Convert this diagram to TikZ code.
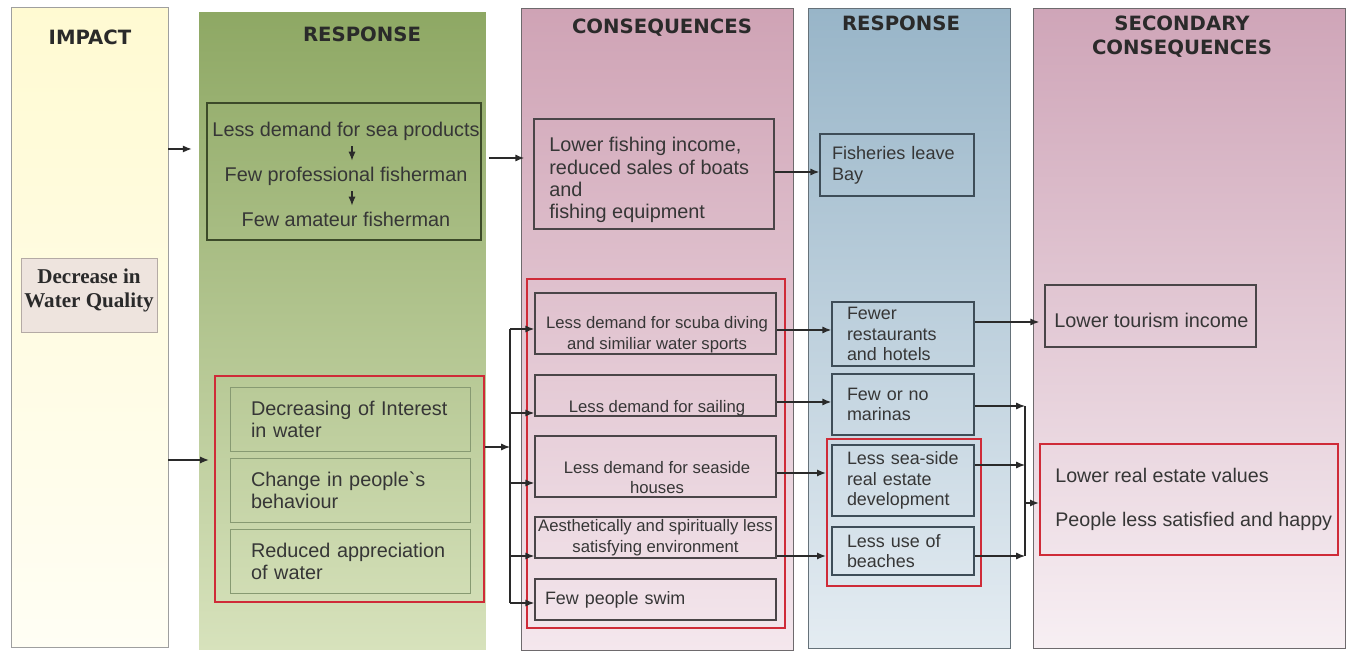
\documentclass[tikz,border=0pt]{standalone}
\usepackage{fontspec}
\setmainfont{Liberation Sans}
\newfontfamily\headfont{DejaVu Sans}
\newfontfamily\qualityfont{Liberation Serif}
\usetikzlibrary{arrows.meta, positioning}

\definecolor{txtgray}{HTML}{363636}
\definecolor{headgray}{HTML}{2A2A2A}
\definecolor{boxgray}{HTML}{4A4548}
\definecolor{boxblue}{HTML}{3E4D58}
\definecolor{boxolive}{HTML}{3C4A29}
\definecolor{boxsage}{HTML}{879A72}
\definecolor{markred}{HTML}{CF2B38}

\begin{document}
\begin{tikzpicture}[x=0.02cm, y=-0.02cm,
    head/.style={font=\headfont\bfseries\fontsize{11.2}{13.7}\selectfont, text=headgray, align=center, inner sep=0pt},
    panel/.style={rectangle, inner sep=0pt},
    txt/.style={font=\fontsize{11.3}{12.6}\selectfont, text=txtgray},
    small/.style={font=\fontsize{9.5}{11.7}\selectfont, text=txtgray, align=center},
    blue/.style={font=\fontsize{10.2}{11.7}\selectfont, text=txtgray, draw=boxblue, line width=0.9pt, inner sep=0pt, align=left, text width=2.24cm, minimum width=2.84cm},
    cbox/.style={draw=boxgray, line width=0.9pt, minimum width=4.82cm, inner sep=0pt},
    gbox/.style={txt, draw=boxsage, thin, minimum width=4.8cm, minimum height=1.28cm, inner sep=0pt, align=left, text width=3.96cm},
    redmark/.style={draw=markred, line width=1.3pt, inner sep=0pt},
    arr/.style={-{Latex[length=5pt, width=4pt]}, line width=0.7pt, draw=headgray},
    bus/.style={line width=0.7pt, draw=headgray}]

\useasboundingbox (0,0) rectangle (1346,661);
\fill[white] (0,0) rectangle (1346,661);

\node[panel, draw=gray!75, top color={rgb,255:red,255;green,250;blue,210}, bottom color={rgb,255:red,255;green,254;blue,244}, minimum width=3.14cm, minimum height=12.8cm] (impact) at (89.5,327) {};
\node[panel, top color={rgb,255:red,142;green,168;blue,100}, bottom color={rgb,255:red,215;green,226;blue,188}, minimum width=5.74cm, minimum height=12.76cm] (respA) at (342.5,331) {};
\node[panel, draw=boxgray!80, top color={rgb,255:red,207;green,163;blue,181}, bottom color={rgb,255:red,244;green,231;blue,237}, minimum width=5.44cm, minimum height=12.84cm] (consA) at (657,329) {};
\node[panel, draw=boxblue!80, top color={rgb,255:red,152;green,181;blue,200}, bottom color={rgb,255:red,228;green,236;blue,242}, minimum width=4.04cm, minimum height=12.8cm] (respB) at (909,328) {};
\node[panel, draw=boxgray!80, top color={rgb,255:red,207;green,165;blue,184}, bottom color={rgb,255:red,247;green,239;blue,243}, minimum width=6.24cm, minimum height=12.8cm] (consB) at (1189,328) {};

\node[head] (impactHead) at (90,37) {IMPACT};
\node[head] (respAHead) at (362,34.5) {RESPONSE};
\node[head] (consAHead) at (662,27.5) {CONSEQUENCES};
\node[head] (respBHead) at (901,23.5) {RESPONSE};
\node[head] (consBHead) at (1182,36.5) {SECONDARY\\CONSEQUENCES};

\node[draw={rgb,255:red,180;green,170;blue,165}, fill={rgb,255:red,238;green,228;blue,222}, minimum width=2.72cm, minimum height=1.48cm, inner sep=0pt] (quality) at (89,295) {};
\node[inner sep=0pt, align=center, text=headgray, font=\qualityfont\bfseries\fontsize{12}{13.7}\selectfont] (qualityText) at (89,290.5) {Decrease in\\Water Quality};

\node[draw=boxolive, line width=0.9pt, minimum width=5.48cm, minimum height=2.74cm] (fishbox) at (344,171.5) {};
\node[txt] (fish1) at (346,131) {Less demand for sea products};
\node[txt] (fish2) at (346,176) {Few professional fisherman};
\node[txt] (fish3) at (346,219) {Few amateur fisherman};
\draw[arr, line width=0.6pt] ([xshift=0.12cm]fish1.south) -- ([xshift=0.12cm]fish2.north);
\draw[arr, line width=0.6pt] ([xshift=0.12cm]fish2.south) -- ([xshift=0.12cm]fish3.north);

\node[redmark, minimum width=5.38cm, minimum height=4.52cm] (redgreen) at (349.5,489) {};
\node[gbox] (interest) at (350,419) {Decreasing of Interest\\in water};
\node[gbox] (behaviour) at (350,490) {Change in people\textasciigrave s\\behaviour};
\node[gbox] (appreciation) at (350,561) {Reduced appreciation\\of water};

\node[draw=boxgray, line width=0.9pt, minimum width=4.8cm, minimum height=2.2cm] (income) at (654,174) {};
\node[txt, inner sep=0pt, align=left, anchor=west] (incomeText) at (549,180) {Lower fishing income,\\reduced sales of boats\\and\\fishing equipment};
\node[blue, font=\fontsize{10.3}{12}\selectfont, minimum width=3.08cm, minimum height=1.24cm, text width=2.6cm] (leave) at (897,165) {Fisheries leave\\Bay};

\node[redmark, minimum width=5.16cm, minimum height=6.98cm] (redcons) at (656,453.5) {};
\node[cbox, minimum height=1.22cm] (scuba) at (655.5,323.5) {};
\node[small] (scubaText) at (657,334.5) {Less demand for scuba diving\\and similiar water sports};
\node[cbox, minimum height=0.82cm] (sailing) at (655.5,395.5) {};
\node[small] (sailingText) at (657,408) {Less demand for sailing};
\node[cbox, minimum height=1.22cm] (seaside) at (655.5,466.5) {};
\node[small] (seasideText) at (657,477.5) {Less demand for seaside\\houses};
\node[cbox, small, minimum height=0.82cm] (aesthetic) at (655.5,537.5) {Aesthetically and spiritually less\\satisfying environment};
\node[cbox, font=\fontsize{10.2}{12}\selectfont, text=txtgray, minimum height=0.82cm, align=left, text width=4.42cm] (swim) at (655.5,599.5) {Few people swim};

\node[blue, minimum height=1.28cm] (hotels) at (903,334) {Fewer\\restaurants\\and hotels};
\node[blue, minimum height=1.22cm] (marinas) at (903,404.5) {Few or no\\marinas};
\node[redmark, minimum width=3.08cm, minimum height=2.94cm] (redblue) at (904,512.5) {};
\node[blue, minimum height=1.42cm] (realestate) at (903,480.5) {Less sea-side\\real estate\\development};
\node[blue, minimum height=0.96cm] (beaches) at (903,551) {Less use of\\beaches};

\node[draw=boxgray, line width=0.9pt, minimum width=4.22cm, minimum height=1.24cm] (tourism) at (1150.5,316) {};
\node[txt, inner sep=0pt, anchor=west] (tourismText) at (1054,320) {Lower tourism income};
\node[redmark, minimum width=5.96cm, minimum height=2.22cm] (redsec) at (1189,499.5) {};
\node[txt, font=\fontsize{11.2}{12.6}\selectfont, inner sep=0pt, align=left, anchor=west] (redsecText) at (1055,499.5) {Lower real estate values\\[12pt]People less satisfied and happy};

\coordinate (lvA) at (0,149);
\coordinate (lvB) at (0,460);
\coordinate (lvC) at (0,158);
\coordinate (lvD) at (0,172);
\coordinate (lvE) at (0,447);
\coordinate (lvF) at (0,330);
\coordinate (lvG) at (0,402);
\coordinate (lvH) at (0,473);
\coordinate (lvI) at (0,556);
\coordinate (lvJ) at (0,322);

\coordinate (busA1) at (510,329);
\coordinate (busA2) at (510,413);
\coordinate (busA3) at (510,483);
\coordinate (busA4) at (510,556);
\coordinate (busA5) at (510,603);

\coordinate (busB1) at (1025,406);
\coordinate (busB2) at (1025,465);
\coordinate (busB3) at (1025,556);
\coordinate (busBo) at (1025,503);

\draw[arr, shorten >=0.14cm] (impact.east |- lvA) -- (respA.west |- lvA);
\draw[arr, shorten >=0.1cm] (impact.east |- lvB) -- (redgreen.west |- lvB);
\draw[arr, shorten <=0.14cm, shorten >=0.18cm] (fishbox.east |- lvC) -- (income.west |- lvC);
\draw[arr] (income.east |- lvD) -- (leave.west |- lvD);

\draw[arr] (redgreen.east |- lvE) -- (busA1 |- lvE);
\draw[bus] (busA1) -- (busA5);
\draw[arr] (busA1) -- (scuba.west |- busA1);
\draw[arr] (busA2) -- (sailing.west |- busA2);
\draw[arr] (busA3) -- (seaside.west |- busA3);
\draw[arr] (busA4) -- (aesthetic.west |- busA4);
\draw[arr] (busA5) -- (swim.west |- busA5);

\draw[arr] (scuba.east |- lvF) -- (hotels.west |- lvF);
\draw[arr] (sailing.east |- lvG) -- (marinas.west |- lvG);
\draw[arr] (seaside.east |- lvH) -- (redblue.west |- lvH);
\draw[arr] (aesthetic.east |- lvI) -- (redblue.west |- lvI);

\draw[arr, shorten >=0.1cm] (hotels.east |- lvJ) -- (tourism.west |- lvJ);
\draw[arr] (marinas.east |- busB1) -- (busB1);
\draw[arr] (realestate.east |- busB2) -- (busB2);
\draw[arr] (beaches.east |- busB3) -- (busB3);
\draw[bus] (busB1) -- (busB3);
\draw[arr] (busBo) -- (redsec.west |- busBo);

\end{tikzpicture}
\end{document}
